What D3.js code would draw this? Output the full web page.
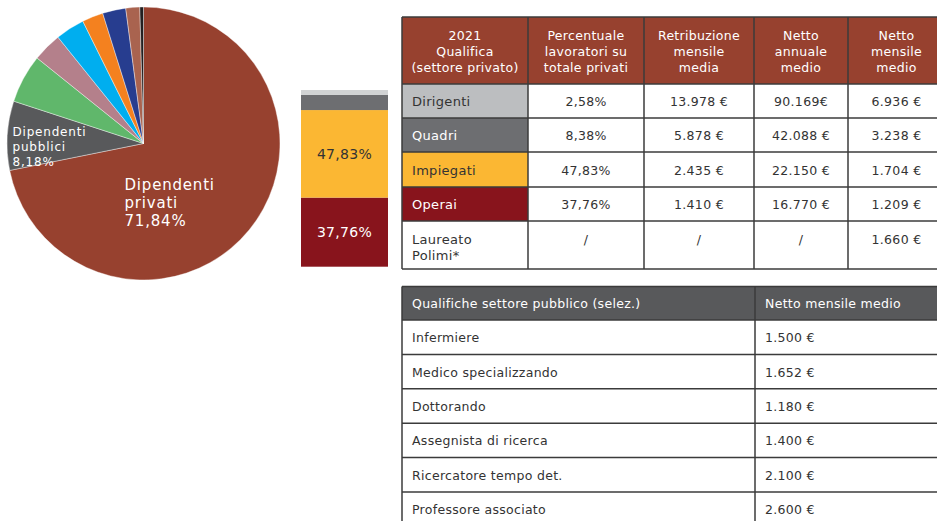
<!DOCTYPE html>
<html lang="it">
<head>
<meta charset="UTF-8">
<title>Dipendenti e retribuzioni 2021</title>
<style>
  body { margin: 0; background: #fff; }
  svg text { font-family: "DejaVu Sans", "Noto Sans", sans-serif; }
</style>
</head>
<body>
<div id="chart"></div>
<script src="https://cdn.jsdelivr.net/npm/d3@7"></script>
<script>
// pie: share of workers (only two slices are labelled)
const pieNames = ["Dipendenti privati", "Dipendenti pubblici", "a", "b", "c", "d", "e", "f", "g"];
const pieValues = [71.84, 8.18, 5.75, 3.45, 3.45, 2.5, 2.75, 1.65, 0.43];
const pieColors = ["#97412f", "#58595b", "#60b76b", "#b4808b", "#00aeef", "#f4811f", "#273d8f", "#a9634f", "#231f20"];

// stacked bar: private sector qualifications
const barCats = ["Operai", "Impiegati", "Quadri", "Dirigenti"];
const barValues = [37.76, 47.83, 8.38, 2.58];
const barColors = ["#88141c", "#fbb733", "#6d6e71", "#d1d3d4"];

// table 1
const headLines = [
  ["2021", "Qualifica", "(settore privato)"],
  ["Percentuale", "lavoratori su", "totale privati"],
  ["Retribuzione", "mensile", "media"],
  ["Netto", "annuale", "medio"],
  ["Netto", "mensile", "medio"]
];
const qualifiche = ["Dirigenti", "Quadri", "Impiegati", "Operai", "Laureato\nPolimi*"];
const percentuali = ["2,58%", "8,38%", "47,83%", "37,76%", "/"];
const retribuzione = ["13.978 €", "5.878 €", "2.435 €", "1.410 €", "/"];
const nettoAnnuale = ["90.169€", "42.088 €", "22.150 €", "16.770 €", "/"];
const nettoMensile = ["6.936 €", "3.238 €", "1.704 €", "1.209 €", "1.660 €"];
const qualColors = ["#bcbec0", "#6d6e71", "#fbb733", "#88141c", "#ffffff"];
const qualText = ["#333", "#fff", "#333", "#fff", "#333"];

// table 2
const pubHead = ["Qualifiche settore pubblico (selez.)", "Netto mensile medio"];
const pubNames = ["Infermiere", "Medico specializzando", "Dottorando", "Assegnista di ricerca", "Ricercatore tempo det.", "Professore associato"];
const pubValues = ["1.500 €", "1.652 €", "1.180 €", "1.400 €", "2.100 €", "2.600 €"];

const W = 937, H = 521;
const svg = d3.select("#chart").append("svg")
  .attr("width", W).attr("height", H);

// ---- pie
const cx = 143.5, cy = 143.5, R = 136.5;
const pie = d3.pie().sort(null).value(d => d);
const arc = d3.arc().innerRadius(0).outerRadius(R);
const pieG = svg.append("g").attr("transform", `translate(${cx},${cy})`);
pieG.selectAll("path")
  .data(pie(pieValues))
  .enter().append("path")
  .attr("d", arc)
  .attr("fill", (d, i) => pieColors[i])
  .attr("stroke", "#fff")
  .attr("stroke-width", 0.4);

const fmt = v => v.toFixed(2).replace(".", ",") + "%";

// labels for the two named slices, one text per line
function multiLabel(g, lines, x, y, lh, size) {
  g.selectAll(null).data(lines).enter().append("text")
    .attr("fill", "#fff").attr("font-size", size)
    .attr("letter-spacing", 0.8)
    .attr("x", x).attr("y", (d, i) => y + i * lh)
    .text(d => d);
}
multiLabel(pieG, ["Dipendenti", "privati", fmt(pieValues[0])], -19, 46, 18, 15);
multiLabel(pieG, ["Dipendenti", "pubblici", fmt(pieValues[1])], -131, -8, 15, 12);

// ---- stacked bar
const total = d3.sum(barValues);
const yBar = d3.scaleLinear().domain([0, total]).range([266.7, 90]);
const xBar = d3.scaleBand().domain(["2021"]).range([301, 388]);
let acc = 0;
const stacked = barValues.map((v, i) => {
  const o = { y0: acc, y1: acc + v, v, i };
  acc += v;
  return o;
});
const barG = svg.append("g");
barG.selectAll("rect")
  .data(stacked)
  .enter().append("rect")
  .attr("x", xBar("2021"))
  .attr("width", xBar.bandwidth())
  .attr("y", d => yBar(d.y1))
  .attr("height", d => yBar(d.y0) - yBar(d.y1))
  .attr("fill", d => barColors[d.i]);
barG.selectAll("text")
  .data(stacked.filter(d => d.v > 20))
  .enter().append("text")
  .attr("x", xBar("2021") + xBar.bandwidth() / 2)
  .attr("y", d => (yBar(d.y0) + yBar(d.y1)) / 2)
  .attr("dy", "0.35em")
  .attr("text-anchor", "middle")
  .attr("font-size", 14)
  .attr("letter-spacing", 0.3)
  .attr("fill", d => d.i === 0 ? "#fff" : "#333")
  .text(d => fmt(d.v));

// ---- table 1
const colX = [402, 528, 644, 754, 848, 945];
const rowY = [17, 84, 118, 152, 187, 221, 269];
const border = "#3b3b3b";
const fs = 12.5, ls = 0.3;
const t1 = svg.append("g");

// header
t1.append("rect").attr("x", colX[0]).attr("y", rowY[0])
  .attr("width", colX[5] - colX[0]).attr("height", rowY[1] - rowY[0])
  .attr("fill", "#97412f");
headLines.forEach((lines, c) => {
  t1.selectAll(null).data(lines).enter().append("text")
    .attr("fill", "#fff").attr("font-size", fs)
    .attr("letter-spacing", ls).attr("text-anchor", "middle")
    .attr("x", (colX[c] + colX[c + 1]) / 2)
    .attr("y", (d, k) => 39.5 + k * 16)
    .text(d => d);
});

// body rows
const cols = [percentuali, retribuzione, nettoAnnuale, nettoMensile];
qualifiche.forEach((q, r) => {
  const y0 = rowY[r + 1], y1 = rowY[r + 2];
  t1.append("rect").attr("x", colX[0]).attr("y", y0)
    .attr("width", colX[1] - colX[0]).attr("height", y1 - y0)
    .attr("fill", qualColors[r]);
  const parts = q.split("\n");
  const multi = parts.length > 1;
  t1.selectAll(null).data(parts).enter().append("text")
    .attr("fill", qualText[r]).attr("font-size", 13)
    .attr("letter-spacing", ls)
    .attr("x", colX[0] + 10)
    .attr("y", (d, k) => multi ? y0 + 23 + k * 15.5 : (y0 + y1) / 2 + 5)
    .text(d => d);
  cols.forEach((col, c) => {
    t1.append("text").attr("fill", "#333").attr("font-size", fs)
      .attr("letter-spacing", ls)
      .attr("text-anchor", "middle")
      .attr("x", (colX[c + 1] + colX[c + 2]) / 2)
      .attr("y", multi ? y0 + 23 : (y0 + y1) / 2 + 5)
      .text(col[r]);
  });
});

// grid lines
rowY.forEach(y => {
  t1.append("line").attr("x1", colX[0]).attr("x2", colX[5])
    .attr("y1", y).attr("y2", y).attr("stroke", border).attr("stroke-width", 1.5);
});
colX.forEach(x => {
  t1.append("line").attr("x1", x).attr("x2", x)
    .attr("y1", rowY[0]).attr("y2", rowY[rowY.length - 1])
    .attr("stroke", border).attr("stroke-width", 1.5);
});

// ---- table 2
const col2 = [402, 755, 945];
const rowH = 34.4, top2 = 286.5, head2 = 33.5;
const t2 = svg.append("g");
t2.append("rect").attr("x", col2[0]).attr("y", top2)
  .attr("width", col2[2] - col2[0]).attr("height", head2)
  .attr("fill", "#58595b");
pubHead.forEach((h, c) => {
  t2.append("text").attr("fill", "#fff").attr("font-size", fs)
    .attr("letter-spacing", ls)
    .attr("x", col2[c] + 10).attr("y", top2 + head2 / 2 + 5).text(h);
});
const rows2 = pubNames.map((n, i) => ({ n, v: pubValues[i], y: top2 + head2 + i * rowH }));
t2.selectAll("text.name").data(rows2).enter().append("text")
  .attr("class", "name").attr("fill", "#333").attr("font-size", fs)
  .attr("letter-spacing", ls)
  .attr("x", col2[0] + 10).attr("y", d => d.y + rowH / 2 + 5).text(d => d.n);
t2.selectAll("text.val").data(rows2).enter().append("text")
  .attr("class", "val").attr("fill", "#333").attr("font-size", fs)
  .attr("letter-spacing", ls)
  .attr("x", col2[1] + 10).attr("y", d => d.y + rowH / 2 + 5).text(d => d.v);
const lines2 = [top2, top2 + head2].concat(rows2.map(d => d.y + rowH));
lines2.forEach(y => {
  t2.append("line").attr("x1", col2[0]).attr("x2", col2[2])
    .attr("y1", y).attr("y2", y).attr("stroke", border).attr("stroke-width", 1.5);
});
col2.forEach(x => {
  t2.append("line").attr("x1", x).attr("x2", x)
    .attr("y1", top2).attr("y2", H + 5)
    .attr("stroke", border).attr("stroke-width", 1.5);
});
</script>
</body>
</html>
